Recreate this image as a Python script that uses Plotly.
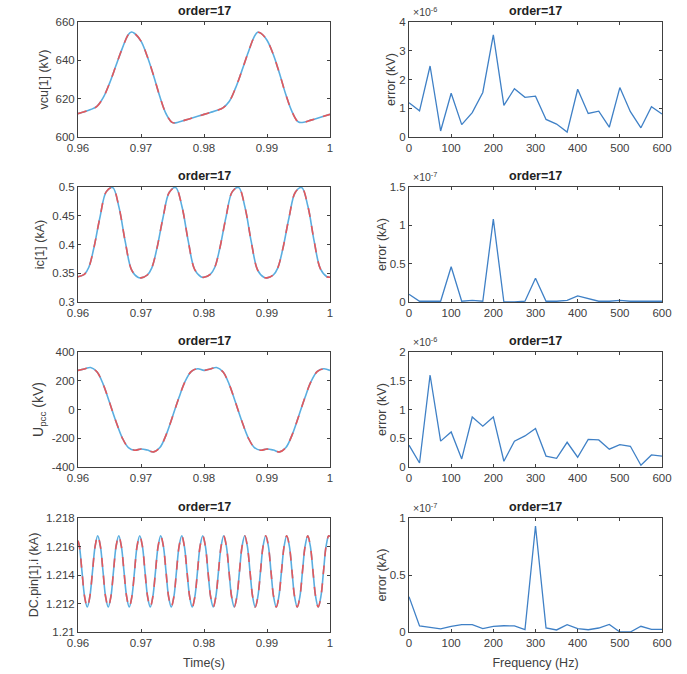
import plotly.graph_objects as go

# ---------------- data ----------------
# vcu[1] (kV)
t_vcu = [0.960, 0.961, 0.962, 0.963, 0.964, 0.965, 0.966, 0.967, 0.968, 0.9685, 0.969,
         0.970, 0.971, 0.972, 0.973, 0.974, 0.975, 0.976, 0.977, 0.978, 0.979, 0.980,
         0.981, 0.982, 0.983, 0.984, 0.985, 0.986, 0.987, 0.988, 0.9885, 0.989, 0.990,
         0.991, 0.992, 0.993, 0.994, 0.995, 0.996, 0.997, 0.998, 0.999, 1.000]
v_vcu = [612.2, 613.2, 614.3, 616.0, 620.5, 628.0, 637.0, 646.0, 653.5, 654.8, 654.0,
         650.0, 642.0, 632.0, 621.0, 612.0, 607.5, 607.8, 608.8, 609.8, 610.8, 611.8,
         612.8, 613.8, 615.2, 618.5, 625.5, 634.5, 644.0, 652.5, 654.6, 654.2, 650.5,
         643.0, 633.0, 622.0, 613.0, 607.8, 607.8, 608.8, 609.8, 610.8, 611.8]

# ic[1] (kA)
t_ic = [0.9600, 0.9610, 0.9617, 0.9625, 0.9635, 0.9645, 0.9655, 0.9665, 0.9675, 0.9685, 0.9695,
        0.9700, 0.9710, 0.9717, 0.9725, 0.9735, 0.9745, 0.9755, 0.9765, 0.9775, 0.9785, 0.9795,
        0.9800, 0.9810, 0.9817, 0.9825, 0.9835, 0.9845, 0.9855, 0.9865, 0.9875, 0.9885, 0.9895,
        0.9900, 0.9910, 0.9917, 0.9925, 0.9935, 0.9945, 0.9955, 0.9965, 0.9975, 0.9985, 0.9995,
        1.0000]
v_ic = [0.344, 0.348, 0.360, 0.393, 0.448, 0.492, 0.499, 0.465, 0.405, 0.356, 0.343,
        0.342, 0.347, 0.359, 0.392, 0.447, 0.491, 0.499, 0.466, 0.406, 0.357, 0.344,
        0.343, 0.348, 0.360, 0.393, 0.448, 0.492, 0.499, 0.465, 0.405, 0.356, 0.343,
        0.342, 0.347, 0.359, 0.392, 0.447, 0.491, 0.499, 0.466, 0.405, 0.357, 0.344,
        0.343]

# Upcc (kV)
t_u = [0.960, 0.961, 0.962, 0.963, 0.964, 0.965, 0.966, 0.967, 0.968, 0.969,
       0.970, 0.971, 0.972, 0.973, 0.974, 0.975, 0.976, 0.977, 0.978, 0.979,
       0.980, 0.981, 0.982, 0.983, 0.984, 0.985, 0.986, 0.987, 0.988, 0.989,
       0.990, 0.991, 0.992, 0.993, 0.994, 0.995, 0.996, 0.997, 0.998, 0.999, 1.000]
v_u = [272, 282, 292, 262, 175, 50, -80, -195, -265, -283,
       -275, -282, -295, -265, -175, -50, 80, 195, 265, 283,
       272, 282, 292, 262, 175, 50, -80, -195, -265, -283,
       -275, -282, -295, -265, -175, -50, 80, 195, 265, 283, 272]

# DC.pin[1].i (kA)
t_dc = [0.96000, 0.96022, 0.96063, 0.96105, 0.96147, 0.96188, 0.96230, 0.96272,
        0.96313, 0.96355, 0.96397, 0.96438, 0.96480, 0.96522, 0.96563, 0.96605,
        0.96647, 0.96688, 0.96730, 0.96772, 0.96813, 0.96855, 0.96897, 0.96938,
        0.96980, 0.97022, 0.97063, 0.97105, 0.97147, 0.97188, 0.97230, 0.97272,
        0.97313, 0.97355, 0.97397, 0.97438, 0.97480, 0.97522, 0.97563, 0.97605,
        0.97647, 0.97688, 0.97730, 0.97772, 0.97813, 0.97855, 0.97897, 0.97938,
        0.97980, 0.98022, 0.98063, 0.98105, 0.98147, 0.98188, 0.98230, 0.98272,
        0.98313, 0.98355, 0.98397, 0.98438, 0.98480, 0.98522, 0.98563, 0.98605,
        0.98647, 0.98688, 0.98730, 0.98772, 0.98813, 0.98855, 0.98897, 0.98938,
        0.98980, 0.99022, 0.99063, 0.99105, 0.99147, 0.99188, 0.99230, 0.99272,
        0.99313, 0.99355, 0.99397, 0.99438, 0.99480, 0.99522, 0.99563, 0.99605,
        0.99647, 0.99688, 0.99730, 0.99772, 0.99813, 0.99855, 0.99897, 0.99938,
        0.99980, 1.00000]
v_dc = [1.21640, 1.21602, 1.21425, 1.21248, 1.21175, 1.21248, 1.21425, 1.21602,
        1.21675, 1.21602, 1.21425, 1.21248, 1.21175, 1.21248, 1.21425, 1.21602,
        1.21675, 1.21602, 1.21425, 1.21248, 1.21175, 1.21248, 1.21425, 1.21602,
        1.21675, 1.21602, 1.21425, 1.21248, 1.21175, 1.21248, 1.21425, 1.21602,
        1.21675, 1.21602, 1.21425, 1.21248, 1.21175, 1.21248, 1.21425, 1.21602,
        1.21675, 1.21602, 1.21425, 1.21248, 1.21175, 1.21248, 1.21425, 1.21602,
        1.21675, 1.21602, 1.21425, 1.21248, 1.21175, 1.21248, 1.21425, 1.21602,
        1.21675, 1.21602, 1.21425, 1.21248, 1.21175, 1.21248, 1.21425, 1.21602,
        1.21675, 1.21602, 1.21425, 1.21248, 1.21175, 1.21248, 1.21425, 1.21602,
        1.21675, 1.21602, 1.21425, 1.21248, 1.21175, 1.21248, 1.21425, 1.21602,
        1.21675, 1.21602, 1.21425, 1.21248, 1.21175, 1.21248, 1.21425, 1.21602,
        1.21675, 1.21602, 1.21425, 1.21248, 1.21175, 1.21248, 1.21425, 1.21602,
        1.21675, 1.21670]

# error spectra
freq = [0, 25, 50, 75, 100, 125, 150, 175, 200, 225, 250, 275, 300,
        325, 350, 375, 400, 425, 450, 475, 500, 525, 550, 575, 600]
err_vcu = [1.19, 0.91, 2.47, 0.21, 1.52, 0.43, 0.85, 1.55, 3.55, 1.10, 1.68, 1.38, 1.42,
           0.61, 0.45, 0.17, 1.66, 0.82, 0.90, 0.34, 1.72, 0.88, 0.32, 1.05, 0.80]   # x1e-6
err_ic = [0.10, 0.01, 0.01, 0.01, 0.46, 0.01, 0.02, 0.01, 1.08, 0.00, 0.00, 0.01, 0.31,
          0.01, 0.01, 0.02, 0.08, 0.05, 0.01, 0.01, 0.02, 0.01, 0.01, 0.01, 0.01]    # x1e-7
err_u = [0.38, 0.07, 1.60, 0.45, 0.61, 0.14, 0.87, 0.71, 0.87, 0.10, 0.45, 0.54, 0.67,
         0.19, 0.15, 0.43, 0.17, 0.48, 0.47, 0.31, 0.39, 0.36, 0.03, 0.21, 0.19]     # x1e-6
err_dc = [0.31, 0.053, 0.04, 0.027, 0.05, 0.064, 0.064, 0.03, 0.05, 0.055, 0.053, 0.02, 0.93,
          0.035, 0.018, 0.064, 0.03, 0.02, 0.035, 0.067, 0.0, 0.0, 0.05, 0.023, 0.023]  # x1e-7

left_series = [(t_vcu, v_vcu), (t_ic, v_ic), (t_u, v_u), (t_dc, v_dc)]
right_series = [err_vcu, err_ic, err_u, err_dc]
left_labels = ["vcu[1] (kV)", "ic[1] (kA)", "U<sub>pcc</sub> (kV)", "DC.pin[1].i (kA)"]
right_labels = ["error (kV)", "error (kA)", "error (kV)", "error (kA)"]
right_exp = ["-6", "-7", "-6", "-7"]
left_ranges = [[600, 660], [0.3, 0.5], [-400, 400], [1.21, 1.218]]
left_ticks = [[600, 620, 640, 660], [0.3, 0.35, 0.4, 0.45, 0.5], [-400, -200, 0, 200, 400],
              [1.21, 1.212, 1.214, 1.216, 1.218]]
left_ticktext = [["600", "620", "640", "660"], ["0.3", "0.35", "0.4", "0.45", "0.5"],
                 ["-400", "-200", "0", "200", "400"], ["1.21", "1.212", "1.214", "1.216", "1.218"]]
right_ranges = [[0, 4], [0, 1.5], [0, 2], [0, 1]]
right_ticks = [[0, 1, 2, 3, 4], [0, 0.5, 1, 1.5], [0, 0.5, 1, 1.5, 2], [0, 0.5, 1]]
time_ticks = [0.96, 0.97, 0.98, 0.99, 1.0]
time_ticktext = ["0.96", "0.97", "0.98", "0.99", "1"]
freq_ticks = [0, 100, 200, 300, 400, 500, 600]

# ---------------- layout ----------------
W, H = 687, 674
left_px = (78, 330)
right_px = (409, 662)
rows_px = [(22, 137), (187, 302), (352, 467), (518, 632)]

AX = "#404040"
FONT = "Liberation Sans, Arial, sans-serif"
BLUE_L = "#5AAEE0"
RED = "#E5575A"
BLUE_R = "#3F80C6"

fig = go.Figure()
layout = dict(width=W, height=H, margin=dict(l=0, r=0, t=0, b=0, autoexpand=False),
              paper_bgcolor="white", plot_bgcolor="white", showlegend=False,
              font=dict(family=FONT, size=11, color=AX))
annotations = []

def axis_common():
    return dict(showline=True, linecolor=AX, linewidth=1, mirror="ticks", automargin=False,
                ticks="inside", ticklen=3, tickcolor=AX, showgrid=False, zeroline=False,
                tickfont=dict(family=FONT, size=11.5, color=AX))

idx = 0
for r in range(4):
    y0, y1 = rows_px[r]
    ydom = [1 - y1 / H, 1 - y0 / H]
    for c in range(2):
        idx += 1
        xa = "xaxis" if idx == 1 else f"xaxis{idx}"
        ya = "yaxis" if idx == 1 else f"yaxis{idx}"
        xref = "x" if idx == 1 else f"x{idx}"
        yref = "y" if idx == 1 else f"y{idx}"
        px0, px1 = left_px if c == 0 else right_px
        xdom = [px0 / W, px1 / W]
        xax = axis_common()
        yax = axis_common()
        xax.update(domain=xdom, anchor=yref)
        yax.update(domain=ydom, anchor=xref)
        if c == 0:
            tt, vv = left_series[r]
            fig.add_trace(go.Scatter(x=tt, y=vv, mode="lines", xaxis=xref, yaxis=yref,
                                     line=dict(color=BLUE_L, width=1.6, shape="spline")))
            fig.add_trace(go.Scatter(x=tt, y=vv, mode="lines", xaxis=xref, yaxis=yref,
                                     line=dict(color=RED, width=1.6, dash="dash", shape="spline")))
            xax.update(range=[0.96, 1.0], tickvals=time_ticks, ticktext=time_ticktext)
            yax.update(range=left_ranges[r], tickvals=left_ticks[r], ticktext=left_ticktext[r],
                       title=dict(text=left_labels[r], standoff=4,
                                  font=dict(family=FONT, size=12.5 if r != 2 else 14, color=AX)))
            if r == 3:
                xax.update(title=dict(text="Time(s)", standoff=10,
                                      font=dict(family=FONT, size=12.5, color=AX)))
        else:
            fig.add_trace(go.Scatter(x=freq, y=right_series[r], mode="lines", xaxis=xref, yaxis=yref,
                                     line=dict(color=BLUE_R, width=1.3)))
            xax.update(range=[0, 600], tickvals=freq_ticks)
            yax.update(range=right_ranges[r], tickvals=right_ticks[r],
                       title=dict(text=right_labels[r], standoff=0,
                                  font=dict(family=FONT, size=12.5, color=AX)))
            if r == 3:
                xax.update(title=dict(text="Frequency (Hz)", standoff=10,
                                      font=dict(family=FONT, size=12.5, color=AX)))
            annotations.append(dict(text=f"×10<sup>{right_exp[r]}</sup>", xref="paper", yref="paper",
                                    x=(px0 + 2) / W, y=1 - (y0 - 2) / H, xanchor="left",
                                    yanchor="bottom", showarrow=False,
                                    font=dict(family=FONT, size=10.5, color=AX)))
        annotations.append(dict(text="<b>order=17</b>", xref="paper", yref="paper",
                                x=(px0 + px1) / 2 / W, y=1 - (y0 - 2) / H, xanchor="center",
                                yanchor="bottom", showarrow=False,
                                font=dict(family=FONT, size=12.5, color="#222222")))
        layout[xa] = xax
        layout[ya] = yax

layout["annotations"] = annotations
fig.update_layout(**layout)
fig.write_html("out.html", config={"displayModeBar": False},
               post_script="document.body.style.margin='0px';document.body.style.padding='0px';")
